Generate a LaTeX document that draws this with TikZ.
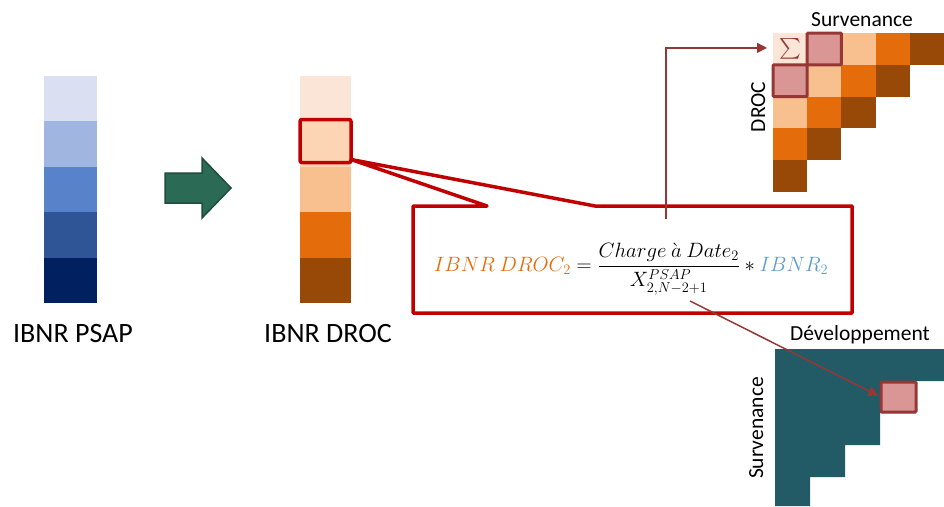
\documentclass[tikz,border=0pt]{standalone}
\usepackage{amsmath}
\usepackage[no-math]{fontspec}
\setmainfont{Carlito}
\usetikzlibrary{calc,arrows.meta}
\definecolor{b1}{HTML}{DADFF2}
\definecolor{b2}{HTML}{A0B5E0}
\definecolor{b3}{HTML}{5882CA}
\definecolor{b4}{HTML}{2F5597}
\definecolor{b5}{HTML}{002060}
\definecolor{o1}{HTML}{FBE5D6}
\definecolor{o2}{HTML}{FCD5B5}
\definecolor{o3}{HTML}{F8BF8F}
\definecolor{o4}{HTML}{E46C0A}
\definecolor{o5}{HTML}{984807}
\definecolor{tri0}{HTML}{FBE5D6}
\definecolor{tri1}{HTML}{DA9694}
\definecolor{tri2}{HTML}{F8BF8F}
\definecolor{tri3}{HTML}{E46C0A}
\definecolor{tri4}{HTML}{984807}
\definecolor{pinkc}{HTML}{DA9694}
\definecolor{hlred}{HTML}{953735}
\definecolor{calred}{HTML}{C00000}
\definecolor{arrgreen}{HTML}{2B6A55}
\definecolor{arrdark}{HTML}{1E4D3C}
\definecolor{tealc}{HTML}{225A66}
\definecolor{forange}{HTML}{E46C0A}
\definecolor{fblue}{HTML}{5B9BD5}
\begin{document}
\begin{tikzpicture}[x=1pt,y=-1pt,
  seg/.style={inner sep=0,outer sep=0,minimum width=53pt,minimum height=45.4pt,anchor=north west},
  oseg/.style={seg,minimum width=51pt},
  cell/.style={inner sep=0,outer sep=0,minimum width=34.2pt,minimum height=31.8pt,anchor=north west},
  hlbox/.style={cell,fill=pinkc,draw=hlred,line width=3pt,rounded corners=1pt},
  lbl/.style={font=\fontsize{28}{32}\selectfont,inner sep=0,anchor=base},
  axl/.style={font=\fontsize{21.5}{24}\selectfont,inner sep=0,anchor=base},
  thinarr/.style={draw=hlred,line width=1.5pt,-{Triangle[length=10pt,width=10pt]}},
  callout/.style={draw=calred,line width=3.5pt,line join=round},
]
\useasboundingbox (0,0) rectangle (944,506);
% blue column
\node[seg,fill=b1] (p1) at (44,76) {};
\node[seg,fill=b2] (p2) at (44,121.4) {};
\node[seg,fill=b3] (p3) at (44,166.8) {};
\node[seg,fill=b4] (p4) at (44,212.2) {};
\node[seg,fill=b5] (p5) at (44,257.6) {};
\node[lbl] (psapl) at (73,342) {IBNR PSAP};
% green arrow
\fill[arrgreen,draw=arrdark,line width=1.5pt,line join=miter]
  (165,173) -- (202,173) -- (202,158) -- (231,188) -- (202,218) -- (202,203) -- (165,203) -- cycle;
% orange column
\node[oseg,fill=o1] (d1) at (300,76) {};
\node[oseg,fill=o2] (d2) at (300,121.4) {};
\node[oseg,fill=o3] (d3) at (300,166.8) {};
\node[oseg,fill=o4] (d4) at (300,212.2) {};
\node[oseg,fill=o5] (d5) at (300,257.6) {};
\node[lbl] (drocl) at (328,342) {IBNR DROC};
\node[inner sep=0,outer sep=0,minimum width=51pt,minimum height=43pt,anchor=north west,
  draw=calred,line width=3.5pt,rounded corners=2pt] (sel) at (300,119.5) {};
% callout
\node[minimum width=439pt,minimum height=107pt,inner sep=0,outer sep=0,anchor=north west] (box) at (413,206) {};
\draw[callout] (box.north west) -- ($(box.north west)+(74,0)$) -- ($(sel.south east)+(0,-3)$)
  -- ($(box.north west)+(182,0)$) -- (box.north east) -- (box.south east) -- (box.south west) -- cycle;
\node[inner sep=0,font=\fontsize{20.5}{24}\selectfont] (formula) at (631,269)
  {$\color{forange}IBNR\ DROC_2 \color{black}= \dfrac{Charge\ \grave{a}\ Date_2}{X^{PSAP}_{2,N-2+1}} * \color{fblue}IBNR_2$};
% top triangle
\foreach \r in {0,...,4}{
  \foreach \c in {0,...,4}{
    \pgfmathtruncatemacro\k{\r+\c}
    \ifnum\k<5
      \node[cell,fill=tri\k] (t\r\c) at (773+34.2*\c,33+31.8*\r) {};
    \fi
  }
}
\node[hlbox] (hlA) at (t01.north west) {};
\node[hlbox] (hlC) at (t10.north west) {};
\node[text=hlred,inner sep=0,font=\fontsize{22}{22}\selectfont] (sig) at (t00.center) {$\sum$};
\node[axl] (survtop) at (862,27) {Survenance};
\node[axl,rotate=90] (droclab) at (765,107) {DROC};
% bottom staircase
\fill[tealc] (775,349) -- (944,349) -- (944,381) -- (916,381) -- (916,413) -- (880,413)
  -- (880,445) -- (845,445) -- (845,477) -- (810,477) -- (810,506) -- (775,506) -- cycle;
\node[inner sep=0,outer sep=0,minimum width=35pt,minimum height=30pt,anchor=north west,
  fill=pinkc,draw=hlred,line width=3pt,rounded corners=1pt] (hlD) at (881,382) {};
\node[axl] (devlab) at (860,340) {Développement};
\node[axl,rotate=90] (survbot) at (763,428) {Survenance};
% thin arrows
\coordinate (s1) at (666,219);
\coordinate (s2) at (690,301);
\draw[thinarr] (s1) |- ([xshift=-6pt,yshift=1pt]t00.west);
\draw[thinarr,shorten >=3pt] (s2) -- (hlD.west);
\end{tikzpicture}
\end{document}
